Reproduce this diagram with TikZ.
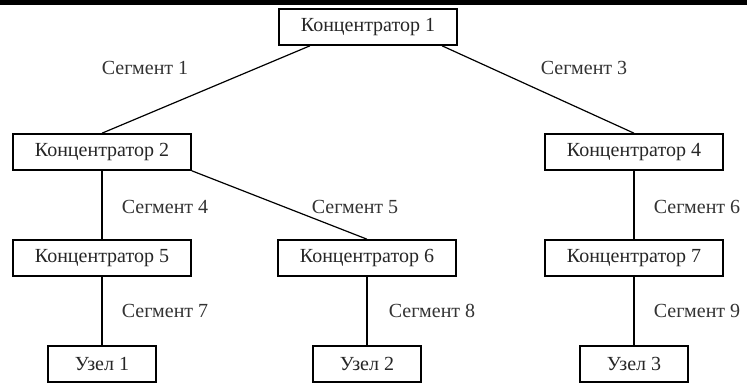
\documentclass[tikz,border=0pt]{standalone}
\usepackage{fontspec}
\setmainfont{LiberationSerif}[Extension=.ttf, UprightFont=*-Regular, BoldFont=*-Bold]
\usetikzlibrary{backgrounds}

\begin{document}
\begin{tikzpicture}[x=0.5pt, y=-0.5pt, font=\fontsize{10}{12}\selectfont,
    show background rectangle, background rectangle/.style={fill=white, draw=none},
    hub/.style={draw, line width=0.8pt, minimum width=89pt, minimum height=18pt, inner sep=2pt, text=black!85},
    host/.style={hub, minimum width=54pt},
    seg/.style={text=black!80, inner sep=1pt},
    wire/.style={line width=0.6pt}]

  \useasboundingbox (0,0) rectangle (747,383);
  \draw[line width=2.5pt] (0,2.5) -- (747,2.5);

  % ---------------- hubs ----------------
  \node[hub] (k1) at (368, 27) {Концентратор 1};
  \node[hub] (k2) at (102,152) {Концентратор 2};
  \node[hub] (k4) at (634,152) {Концентратор 4};
  \node[hub] (k5) at (102,258) {Концентратор 5};
  \node[hub] (k6) at (367,258) {Концентратор 6};
  \node[hub] (k7) at (634,258) {Концентратор 7};

  % ---------------- hosts ----------------
  \node[host] (u1) at (102,364) {Узел 1};
  \node[host] (u2) at (367,364) {Узел 2};
  \node[host] (u3) at (634,364) {Узел 3};

  % ---------------- segments ----------------
  \draw[wire] ([xshift=-29pt]k1.south) -- (k2.north);
  \draw[wire] ([xshift=37pt]k1.south) -- (k4.north);
  \draw[wire] (k2) -- (k5);
  \draw[wire] (k2.south east) -- (k6.north);
  \draw[wire] (k4) -- (k7);
  \draw[wire] (k5) -- (u1);
  \draw[wire] (k6) -- (u2);
  \draw[wire] (k7) -- (u3);

  \node[seg] (s1) at (145, 68) {Сегмент 1};
  \node[seg] (s3) at (584, 68) {Сегмент 3};
  \node[seg] (s4) at (165,207) {Сегмент 4};
  \node[seg] (s5) at (355,207) {Сегмент 5};
  \node[seg] (s6) at (697,207) {Сегмент 6};
  \node[seg] (s7) at (165,311) {Сегмент 7};
  \node[seg] (s8) at (432,311) {Сегмент 8};
  \node[seg] (s9) at (697,311) {Сегмент 9};
\end{tikzpicture}
\end{document}
